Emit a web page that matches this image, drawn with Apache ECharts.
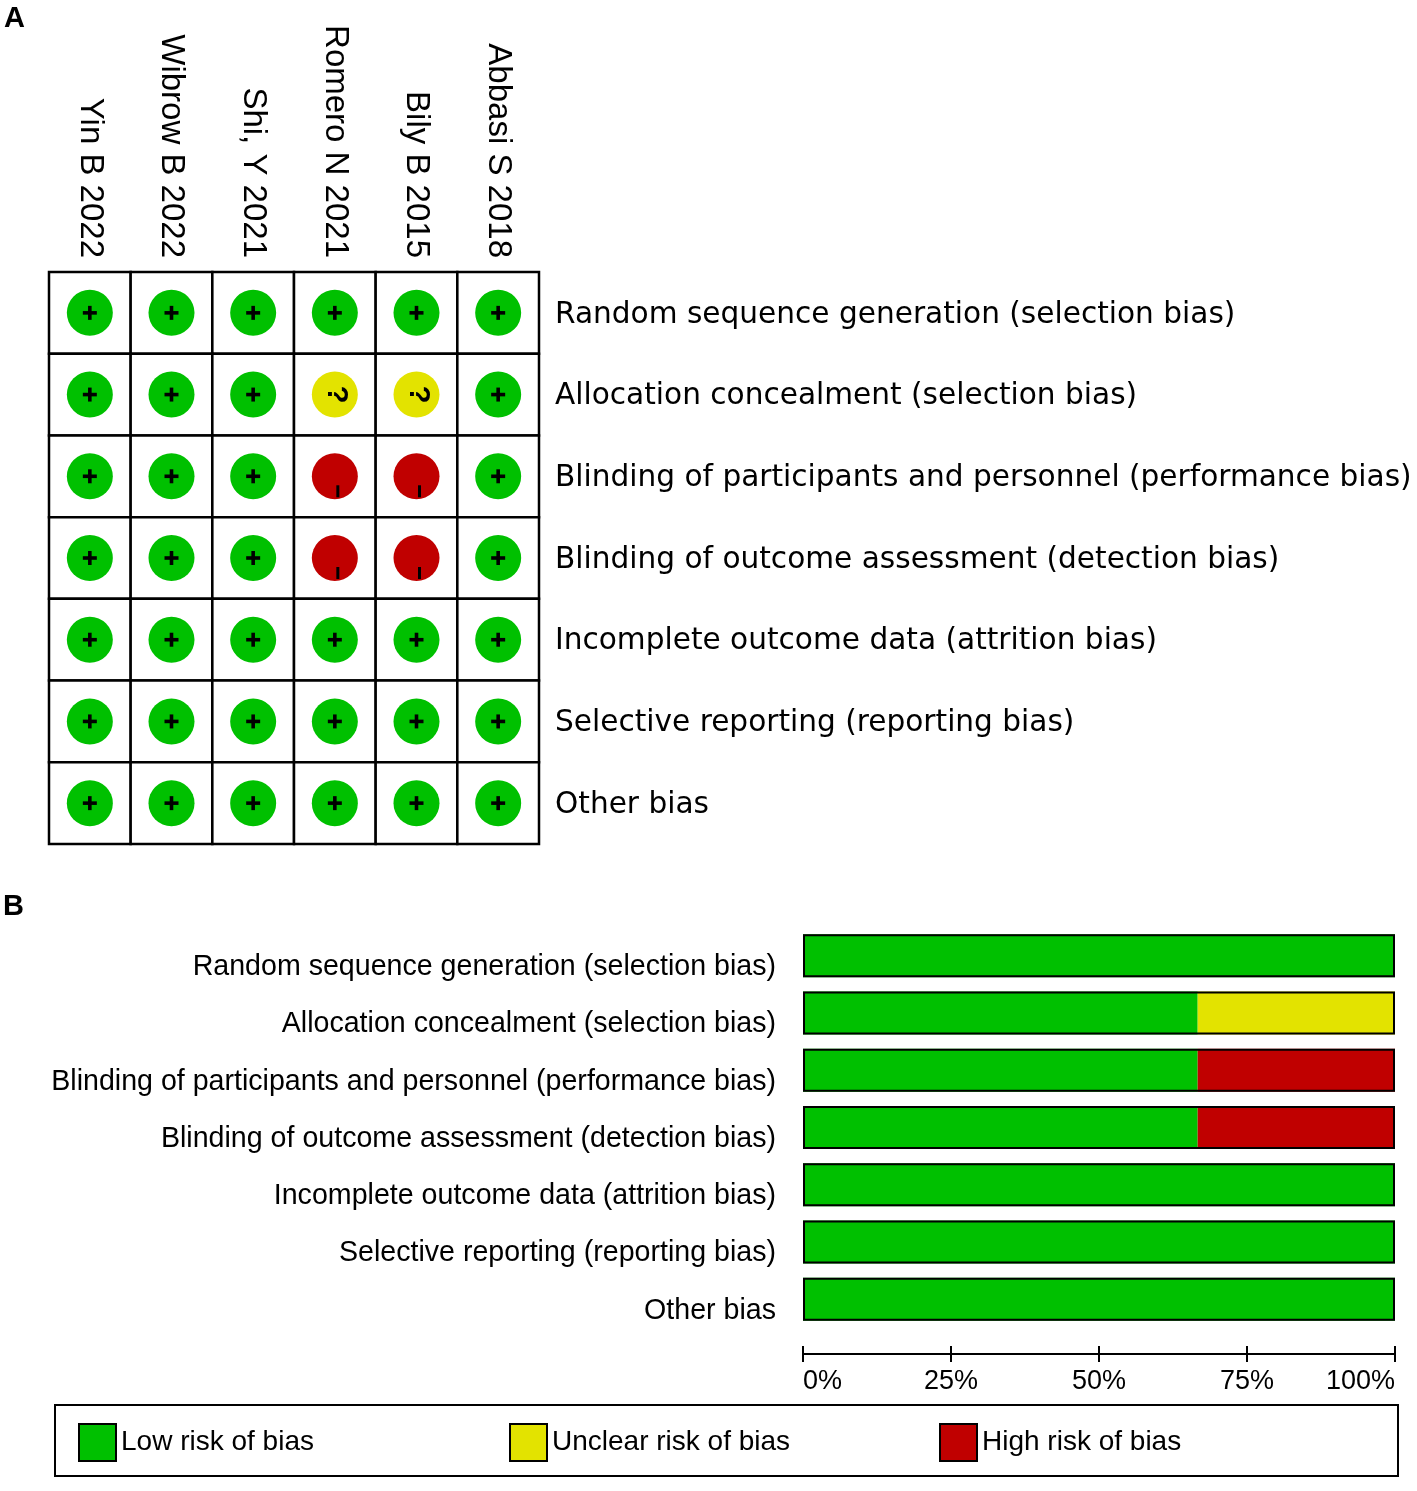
<!DOCTYPE html>
<html>
<head>
<meta charset="utf-8">
<title>Risk of bias</title>
<script src="https://cdn.jsdelivr.net/npm/echarts@6/dist/echarts.min.js"></script>
<style>
  html, body { margin: 0; padding: 0; background: #fff; }
  #chart { width: 1417px; height: 1491px; }
</style>
</head>
<body>
<div id="chart"></div>
<script>
// studies (columns of panel A)
var studies = ["Yin B 2022", "Wibrow B 2022", "Shi, Y 2021", "Romero N 2021", "Bily B 2015", "Abbasi S 2018"];

// bias domains (rows)
var domains = [
	"Random sequence generation (selection bias)",
	"Allocation concealment (selection bias)",
	"Blinding of participants and personnel (performance bias)",
	"Blinding of outcome assessment (detection bias)",
	"Incomplete outcome data (attrition bias)",
	"Selective reporting (reporting bias)",
	"Other bias"
];

// judgements per domain, one entry per study: "+" low, "?" unclear, "-" high
var judgements = [
	["+", "+", "+", "+", "+", "+"],
	["+", "+", "+", "?", "?", "+"],
	["+", "+", "+", "-", "-", "+"],
	["+", "+", "+", "-", "-", "+"],
	["+", "+", "+", "+", "+", "+"],
	["+", "+", "+", "+", "+", "+"],
	["+", "+", "+", "+", "+", "+"]
];

// panel B percentages per domain
var lowPct = [100, 66.67, 66.67, 66.67, 100, 100, 100];
var unclearPct = [0, 33.33, 0, 0, 0, 0, 0];
var highPct = [0, 0, 33.33, 33.33, 0, 0, 0];

var GREEN = "#00c000";
var YELLOW = "#e3e300";
var RED = "#c00000";
var fillFor = { "+": GREEN, "?": YELLOW, "-": RED };

var cells = [];
judgements.forEach(function (row, r) {
	row.forEach(function (j, c) {
		cells.push([c, r, j]);
	});
});

var totals = lowPct.map(function (v, i) {
	return v + unclearPct[i] + highPct[i];
});

function renderCell(params, api) {
	var pt = api.coord([api.value(0), api.value(1)]);
	var size = api.size([1, 1]);
	var j = cells[params.dataIndex][2];
	var cx = pt[0], cy = pt[1];
	var children = [
		{
			type: "rect",
			shape: { x: cx - size[0] / 2, y: cy - size[1] / 2, width: size[0], height: size[1] },
			style: { fill: "#fff", stroke: "#000", lineWidth: 2.5 }
		},
		{
			type: "circle",
			shape: { cx: cx, cy: cy, r: 23 },
			style: { fill: fillFor[j] }
		}
	];
	if (j === "+") {
		children.push(
			{ type: "rect", shape: { x: cx - 7, y: cy - 1.8, width: 14, height: 3.6 }, style: { fill: "#000" } },
			{ type: "rect", shape: { x: cx - 1.8, y: cy - 7, width: 3.6, height: 14 }, style: { fill: "#000" } }
		);
	} else if (j === "?") {
		// question mark lies on its side: dot on the left, hook on the right
		children.push({
			type: "text",
			x: cx + 1,
			y: cy,
			rotation: -Math.PI / 2,
			style: {
				text: "?",
				fill: "#000",
				font: "bold 29px 'Liberation Sans', Arial, sans-serif",
				align: "center",
				verticalAlign: "middle"
			}
		});
	} else {
		children.push({
			type: "rect",
			shape: { x: cx + 1.5, y: cy + 9, width: 3, height: 12 },
			style: { fill: "#000" }
		});
	}
	return { type: "group", children: children };
}

var chart = echarts.init(document.getElementById("chart"));

var option = {
	backgroundColor: "#fff",
	animation: false,
	textStyle: { fontFamily: "'Liberation Sans', Arial, sans-serif", color: "#000" },
	grid: [
		{ left: 49, top: 272, width: 490, height: 572, outerBoundsMode: "none", containLabel: false },
		{ left: 803, top: 927, width: 592, height: 401, outerBoundsMode: "none", containLabel: false }
	],
	xAxis: [
		{
			gridIndex: 0,
			type: "category",
			position: "top",
			data: studies,
			axisLine: { show: false },
			axisTick: { show: false },
			axisLabel: {
				interval: 0,
				rotate: 90,
				margin: 14,
				fontSize: 33,
				color: "#000",
				fontFamily: "'Liberation Sans', Arial, sans-serif"
			}
		},
		{
			gridIndex: 1,
			type: "value",
			min: 0,
			max: 100,
			interval: 25,
			offset: 26,
			axisLine: { show: true, lineStyle: { color: "#000", width: 2 } },
			axisTick: { show: true, inside: false, length: 8, lineStyle: { color: "#000", width: 2 } },
			splitLine: { show: false },
			axisLabel: {
				formatter: "{value}%",
				fontSize: 27,
				color: "#000",
				margin: 14,
				alignMinLabel: "left",
				alignMaxLabel: "right",
				showMinLabel: true,
				showMaxLabel: true
			}
		},
		{
			gridIndex: 1,
			type: "value",
			position: "bottom",
			min: 0,
			max: 100,
			interval: 25,
			offset: 26,
			axisLine: { show: false },
			axisTick: { show: true, inside: true, length: 8, lineStyle: { color: "#000", width: 2 } },
			splitLine: { show: false },
			axisLabel: { show: false }
		}
	],
	yAxis: [
		{
			gridIndex: 0,
			type: "category",
			position: "right",
			inverse: true,
			data: domains,
			axisLine: { show: false },
			axisTick: { show: false },
			axisLabel: {
				interval: 0,
				margin: 16,
				fontSize: 29.6,
				verticalAlign: "top",
				lineHeight: 4,
				color: "#000",
				fontFamily: "'DejaVu Sans', Verdana, sans-serif"
			}
		},
		{
			gridIndex: 1,
			type: "category",
			inverse: true,
			data: domains,
			axisLine: { show: false },
			axisTick: { show: false },
			axisLabel: {
				interval: 0,
				margin: 27,
				fontSize: 28.6,
				verticalAlign: "top",
				lineHeight: 23,
				color: "#000"
			}
		}
	],
	legend: [
		{ data: ["Low risk of bias"], left: 78, top: 1423 },
		{ data: ["Unclear risk of bias"], left: 509, top: 1423 },
		{ data: ["High risk of bias"], left: 939, top: 1423 }
	].map(function (l) {
		return Object.assign(l, {
			padding: 0,
			icon: "rect",
			itemWidth: 37,
			itemHeight: 37,
			selectedMode: false,
			itemStyle: { borderColor: "#000", borderWidth: 2 },
			textStyle: { fontSize: 28, color: "#000", fontFamily: "'Liberation Sans', Arial, sans-serif" }
		});
	}),
	graphic: [
		{ type: "text", left: 4, top: 4, style: { text: "A", font: "bold 29px 'Liberation Sans', Arial, sans-serif", fill: "#000" } },
		{ type: "text", left: 3, top: 892, style: { text: "B", font: "bold 29px 'Liberation Sans', Arial, sans-serif", fill: "#000" } },
		{
			type: "rect",
			shape: { x: 55, y: 1405, width: 1343, height: 71 },
			style: { fill: "none", stroke: "#000", lineWidth: 2 },
			z: -1
		}
	],
	series: [
		{
			type: "custom",
			name: "summary",
			xAxisIndex: 0,
			yAxisIndex: 0,
			renderItem: renderCell,
			data: cells.map(function (c) { return [c[0], c[1]]; })
		},
		{
			type: "bar",
			name: "Low risk of bias",
			xAxisIndex: 1,
			yAxisIndex: 1,
			stack: "risk",
			barWidth: 43,
			itemStyle: { color: GREEN },
			data: lowPct
		},
		{
			type: "bar",
			name: "Unclear risk of bias",
			xAxisIndex: 1,
			yAxisIndex: 1,
			stack: "risk",
			barWidth: 43,
			itemStyle: { color: YELLOW },
			data: unclearPct
		},
		{
			type: "bar",
			name: "High risk of bias",
			xAxisIndex: 1,
			yAxisIndex: 1,
			stack: "risk",
			barWidth: 43,
			itemStyle: { color: RED },
			data: highPct
		},
		{
			type: "bar",
			name: "outline",
			xAxisIndex: 1,
			yAxisIndex: 1,
			stack: "outline",
			barWidth: 43,
			barGap: "-100%",
			z: 3,
			itemStyle: { color: "rgba(0,0,0,0)", borderColor: "#000", borderWidth: 2 },
			data: totals
		}
	]
};

chart.setOption(option);
</script>
</body>
</html>
